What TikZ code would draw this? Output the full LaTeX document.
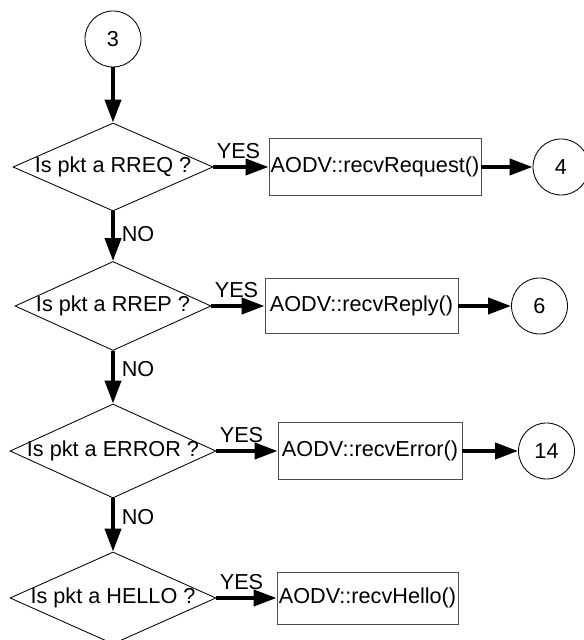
\documentclass[tikz,border=0pt]{standalone}
\usepackage{fontspec}
\setmainfont{Liberation Sans}
\usepackage{tikz}
\usetikzlibrary{shapes.geometric, arrows.meta, positioning}

\begin{document}
\begin{tikzpicture}[
  font=\fontsize{15.4}{18}\selectfont,
  dec/.style={draw, diamond, line width=0.6pt, inner sep=0pt},
  act/.style={draw=black!70, line width=0.6pt, inner sep=1pt},
  conn/.style={draw, circle, line width=0.6pt, minimum size=1.4cm, inner sep=0pt},
  arr/.style={-{Triangle[length=0.575cm, width=0.4cm]}, line width=0.1cm},
  yes/.style={anchor=base west, inner sep=0pt, xshift=1pt, yshift=0.22cm},
  no/.style={anchor=west, inner sep=0pt, xshift=0.17cm},
]
\useasboundingbox (0,0) rectangle (14.575,16);

\node[conn] (c3) at (2.825,15.025) {3};

% decisions
\node[dec, minimum width=5.0cm, minimum height=2.2cm] (d1) at (2.825,11.825) {\makebox[0pt]{Is pkt a RREQ ?}};
\node[dec, minimum width=4.9cm, minimum height=2.225cm] (d2) at (2.825,8.35) {\makebox[0pt]{Is pkt a RREP ?}};
\node[dec, minimum width=5.15cm, minimum height=2.35cm] (d3) at (2.825,4.725) {\makebox[0pt]{Is pkt a ERROR ?}};
\node[dec, minimum width=5.15cm, minimum height=2.3cm] (d4) at (2.825,1.05) {\makebox[0pt]{Is pkt a HELLO ?}};

% handlers
\node[act, minimum width=5.3cm, minimum height=1.425cm] (b1) at (9.375,11.825) {AODV::recvRequest()};
\node[act, minimum width=4.825cm, minimum height=1.375cm] (b2) at (9.0375,8.35) {AODV::recvReply()};
\node[act, minimum width=4.6cm, minimum height=1.425cm] (b3) at (9.25,4.725) {AODV::recvError()};
\node[act, minimum width=4.525cm, minimum height=1.3cm] (b4) at (9.1875,1.05) {AODV::recvHello()};

\node[conn] (c4) at (14.025,11.825) {4};
\node[conn] (c6) at (13.4875,8.35) {6};
\node[conn] (c14) at (13.6625,4.725) {14};

\draw[arr] (c3) -- (d1);
\draw[arr] (d1.south) -- node[no, pos=0.45] (n1) {NO} (d2.north);
\draw[arr] (d2.south) -- node[no, pos=0.35] (n2) {NO} (d3.north);
\draw[arr] (d3.south) -- node[no, pos=0.35] (n3) {NO} (d4.north);

\draw[arr] (d1.east) -- node[yes, pos=0] (y1) {YES} (b1.west);
\draw[arr] (d2.east) -- node[yes, pos=0] (y2) {YES} (b2.west);
\draw[arr] (d3.east) -- node[yes, pos=0] (y3) {YES} (b3.west);
\draw[arr] (d4.east) -- node[yes, pos=0] (y4) {YES} (b4.west);

\draw[arr] (b1) -- (c4);
\draw[arr] (b2) -- (c6);
\draw[arr] (b3) -- (c14);
\end{tikzpicture}
\end{document}
